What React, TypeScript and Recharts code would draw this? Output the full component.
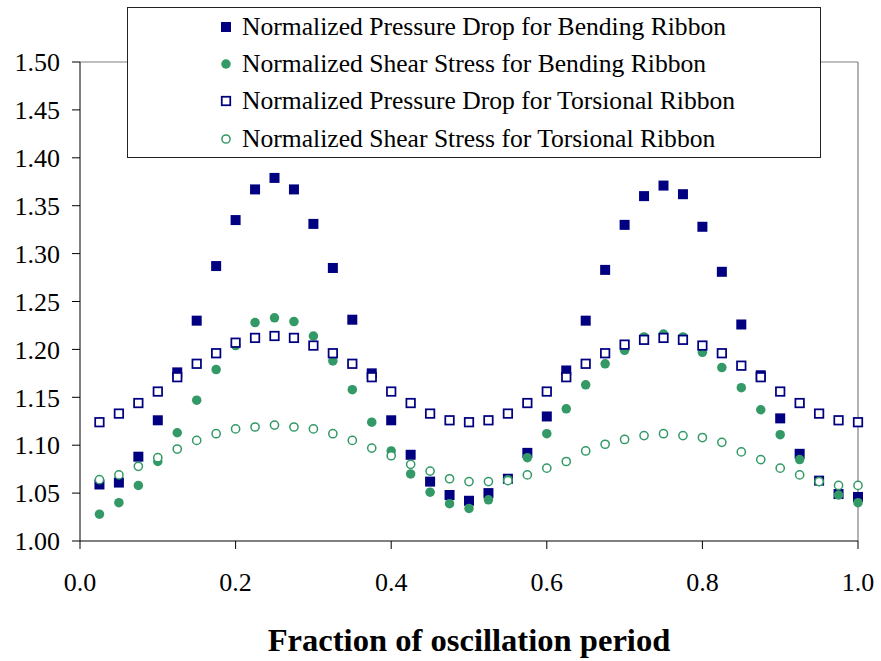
import React from 'react';
import {
  ScatterChart,
  Scatter,
  XAxis,
  YAxis,
  Legend,
  ReferenceLine
} from 'recharts';

// fraction of the oscillation period at which each sample was taken
const phase = [
  0.025, 0.05, 0.075, 0.1, 0.125, 0.15, 0.175, 0.2, 0.225, 0.25,
  0.275, 0.3, 0.325, 0.35, 0.375, 0.4, 0.425, 0.45, 0.475, 0.5,
  0.525, 0.55, 0.575, 0.6, 0.625, 0.65, 0.675, 0.7, 0.725, 0.75,
  0.775, 0.8, 0.825, 0.85, 0.875, 0.9, 0.925, 0.95, 0.975, 1.0
];

const bendingPressure = [
  1.059, 1.061, 1.088, 1.126, 1.176, 1.230, 1.287, 1.335, 1.367, 1.379,
  1.367, 1.331, 1.285, 1.231, 1.175, 1.126, 1.090, 1.062, 1.048, 1.042,
  1.050, 1.065, 1.092, 1.130, 1.178, 1.230, 1.283, 1.330, 1.360, 1.371,
  1.362, 1.328, 1.281, 1.226, 1.173, 1.128, 1.091, 1.063, 1.049, 1.046
];

const bendingShear = [
  1.028, 1.040, 1.058, 1.083, 1.113, 1.147, 1.179, 1.204, 1.228, 1.233,
  1.229, 1.214, 1.188, 1.158, 1.124, 1.094, 1.070, 1.051, 1.039, 1.034,
  1.043, 1.064, 1.087, 1.112, 1.138, 1.163, 1.185, 1.199, 1.213, 1.216,
  1.213, 1.197, 1.181, 1.160, 1.137, 1.111, 1.085, 1.062, 1.048, 1.040
];

const torsionalPressure = [
  1.124, 1.133, 1.144, 1.156, 1.171, 1.185, 1.196, 1.207, 1.212, 1.214,
  1.212, 1.204, 1.196, 1.185, 1.171, 1.156, 1.144, 1.133, 1.126, 1.124,
  1.126, 1.133, 1.144, 1.156, 1.171, 1.185, 1.196, 1.205, 1.210, 1.212,
  1.210, 1.204, 1.196, 1.183, 1.171, 1.156, 1.144, 1.133, 1.126, 1.124
];

const torsionalShear = [
  1.064, 1.069, 1.078, 1.087, 1.096, 1.105, 1.112, 1.117, 1.119, 1.121,
  1.119, 1.117, 1.112, 1.105, 1.097, 1.089, 1.080, 1.073, 1.065, 1.062,
  1.062, 1.063, 1.069, 1.076, 1.083, 1.094, 1.101, 1.106, 1.110, 1.112,
  1.110, 1.108, 1.103, 1.093, 1.085, 1.076, 1.069, 1.062, 1.058, 1.058
];

const xTicks = [0, 0.2, 0.4, 0.6, 0.8, 1.0];
const yTicks = [1.0, 1.05, 1.1, 1.15, 1.2, 1.25, 1.3, 1.35, 1.4, 1.45, 1.5];

const NAVY = '#000080';
const GREEN = '#339966';
const FONT = '"Liberation Serif", "Times New Roman", serif';

const toPoints = (values: number[]) => phase.map((x, i) => ({ x, y: values[i] }));

const filledSquare = (p: any) => (
  <rect x={p.cx - 5} y={p.cy - 5} width={10} height={10} fill={NAVY} />
);
const filledCircle = (p: any) => <circle cx={p.cx} cy={p.cy} r={4.75} fill={GREEN} />;
const hollowSquare = (p: any) => (
  <rect x={p.cx - 4.25} y={p.cy - 4.25} width={8.5} height={8.5} fill="#fff" stroke={NAVY} strokeWidth={1.75} />
);
const hollowCircle = (p: any) => (
  <circle cx={p.cx} cy={p.cy} r={4.1} fill="#fff" stroke={GREEN} strokeWidth={1.5} />
);

const series = [
  { name: 'Normalized Pressure Drop for Bending Ribbon', values: bendingPressure, shape: filledSquare },
  { name: 'Normalized Shear Stress for Bending Ribbon', values: bendingShear, shape: filledCircle },
  { name: 'Normalized Pressure Drop for Torsional Ribbon', values: torsionalPressure, shape: hollowSquare },
  { name: 'Normalized Shear Stress for Torsional Ribbon', values: torsionalShear, shape: hollowCircle }
];

const LegendBox = () => (
  <div
    style={{
      width: 694,
      height: 151,
      boxSizing: 'border-box',
      border: '1px solid #222',
      background: '#fff',
      fontFamily: FONT,
      fontSize: 25.6,
      color: '#000'
    }}
  >
    {series.map((s) => (
      <div key={s.name} style={{ height: 37.3, display: 'flex', alignItems: 'center', whiteSpace: 'nowrap' }}>
        <svg width={20} height={20} style={{ marginLeft: 88, marginRight: 6 }}>
          {s.shape({ cx: 10, cy: 10 })}
        </svg>
        <span>{s.name}</span>
      </div>
    ))}
  </div>
);

const App: React.FC = () => {
  return (
    <div style={{ position: 'absolute', left: 0, top: 0, background: '#fff' }}>
      <ScatterChart width={881} height={661} margin={{ top: 62, right: 23, bottom: 0, left: 0 }}>
        <XAxis
          type="number"
          dataKey="x"
          domain={[0, 1]}
          ticks={xTicks}
          tickFormatter={(v: number) => v.toFixed(1)}
          height={120}
          tickSize={8}
          tickMargin={24}
          axisLine={{ stroke: '#000' }}
          tickLine={{ stroke: '#000' }}
          tick={{ fill: '#000', fontSize: 26, fontFamily: FONT }}
          label={{
            value: 'Fraction of oscillation period',
            position: 'insideBottom',
            offset: 10,
            fill: '#000',
            fontSize: 32.6,
            fontWeight: 'bold',
            fontFamily: FONT
          }}
        />
        <YAxis
          type="number"
          dataKey="y"
          domain={[1, 1.5]}
          ticks={yTicks}
          tickFormatter={(v: number) => v.toFixed(2)}
          width={80}
          tickSize={8}
          tickMargin={12}
          axisLine={{ stroke: '#000' }}
          tickLine={{ stroke: '#000' }}
          tick={{ fill: '#000', fontSize: 26, fontFamily: FONT }}
        />
        {/* grey frame on the top and right of the plot area */}
        <ReferenceLine y={1.5} stroke="#808080" strokeWidth={1.2} />
        <ReferenceLine x={1} stroke="#808080" strokeWidth={1.2} />
        {series.map((s) => (
          <Scatter
            key={s.name}
            name={s.name}
            data={toPoints(s.values)}
            shape={s.shape}
            isAnimationActive={false}
          />
        ))}
        <Legend
          layout="vertical"
          verticalAlign="middle"
          align="center"
          wrapperStyle={{ left: 127, top: 7, width: 694, height: 151 }}
          content={() => <LegendBox />}
        />
      </ScatterChart>
    </div>
  );
};

export default App;
